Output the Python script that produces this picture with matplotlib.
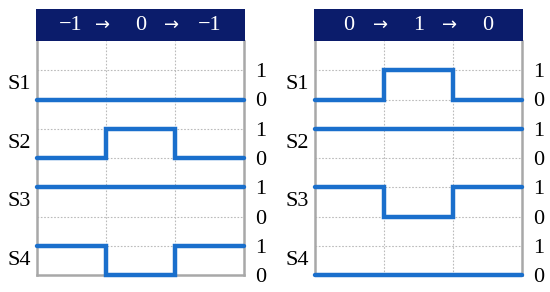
import matplotlib
matplotlib.use("Agg")
import matplotlib.pyplot as plt

# header states for each panel
left_states = ["\u22121", "0", "\u22121"]
right_states = ["0", "1", "0"]

row_names = ["S1", "S2", "S3", "S4"]

# signal level of each row in each of the three intervals
left_signals = [
    [0, 0, 0],
    [0, 1, 0],
    [1, 1, 1],
    [1, 0, 1],
]
right_signals = [
    [0, 1, 0],
    [1, 1, 1],
    [1, 0, 1],
    [0, 0, 0],
]

level_labels = ["0", "1"] * 4

W, H = 550, 292
NAVY = "#0b1c6b"
BLUE = "#1a6fcc"
GRAY = "#a8a8a8"

plt.rcParams["font.family"] = ["Liberation Serif", "DejaVu Serif"]

fig = plt.figure(figsize=(W / 100, H / 100), dpi=100)


def px_axes(x0, y0, x1, y1):
    # pixel box (top-left origin) -> figure axes
    return fig.add_axes([x0 / W, (H - y1) / H, (x1 - x0) / W, (y1 - y0) / H])


def draw_panel(x0, x1, states, signals):
    ax = px_axes(x0, 41, x1, 275)
    ax.set_xlim(0, 3)
    ax.set_ylim(0, 8)

    # dotted grid
    for y in range(1, 8):
        ax.axhline(y, color="#bbbbbb", lw=0.8, ls=(0, (1.5, 1.5)), zorder=1)
    for x in (1, 2):
        ax.axvline(x, color="#bbbbbb", lw=0.8, ls=(0, (1.5, 1.5)), zorder=1)

    for i, (name, vals) in enumerate(zip(row_names, signals)):
        base = 2 * (3 - i)
        xs = [0, 1, 2, 3]
        ys = [base + v for v in vals] + [base + vals[-1]]
        ax.step(xs, ys, where="post", color=BLUE, lw=3.2,
                solid_capstyle="round", solid_joinstyle="miter",
                clip_on=False, zorder=3)
        ax.text(-0.26, base + 0.5, name, ha="center", va="center",
                fontsize=16, clip_on=False)

    for side in ("left", "right", "bottom"):
        ax.spines[side].set_color(GRAY)
        ax.spines[side].set_linewidth(1.8)
    ax.spines["top"].set_visible(False)

    ax.set_xticks([])
    ax.yaxis.tick_right()
    ax.set_yticks(range(8))
    ax.set_yticklabels(level_labels, fontsize=16)
    ax.tick_params(axis="y", length=0, pad=8)

    hd = px_axes(x0 - 1, 9, x1 + 1, 41)
    hd.set_xlim(0, 3)
    hd.set_ylim(0, 1)
    hd.set_facecolor(NAVY)
    for s in hd.spines.values():
        s.set_visible(False)
    hd.set_xticks([])
    hd.set_yticks([])
    for k, st in enumerate(states):
        hd.text(k + 0.5, 0.47, st, color="white", ha="center", va="center",
                fontsize=16)
    for k in (1, 2):
        hd.text(k - 0.05, 0.5, "\u2192", color="white", ha="center", va="center",
                fontsize=13, family="DejaVu Sans")


draw_panel(37, 244, left_states, left_signals)
draw_panel(315, 522, right_states, right_signals)

fig.savefig("out.png", dpi=100)
